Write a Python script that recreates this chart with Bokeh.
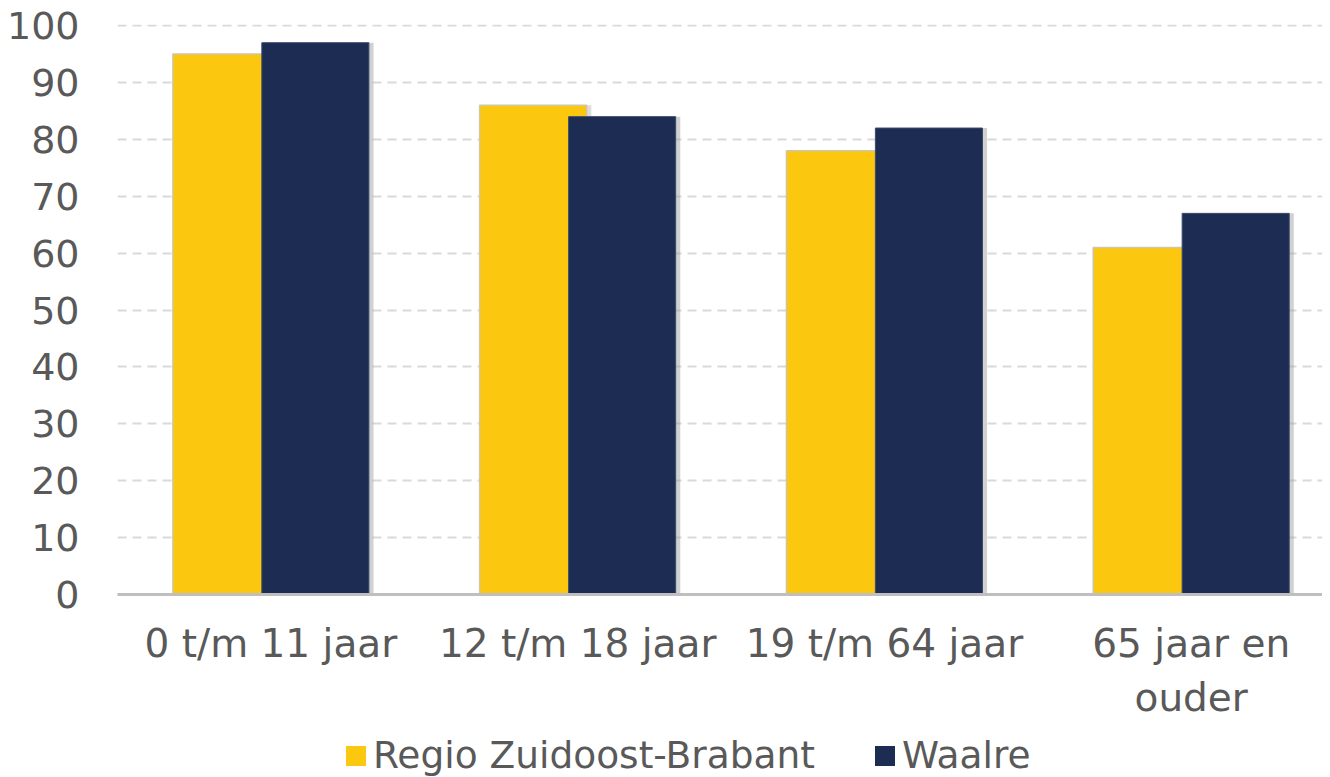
import numpy as np
from bokeh.plotting import figure
from bokeh.layouts import column
from bokeh.models import ColumnDataSource, FixedTicker, Legend, LegendItem, Range1d
from bokeh.transform import dodge
from bokeh.embed import file_html
from bokeh.resources import INLINE

categories = ["0 t/m 11 jaar", "12 t/m 18 jaar", "19 t/m 64 jaar", "65 jaar en\nouder"]
series_names = ["Regio Zuidoost-Brabant", "Waalre"]
regio = [95, 86, 78, 61]
waalre = [97, 84, 82, 67]
y_ticks = [0, 10, 20, 30, 40, 50, 60, 70, 80, 90, 100]

YELLOW = "#FCC70F"
NAVY = "#1C2C53"
TEXT = "#595959"
FONT = "DejaVu Sans"

src = ColumnDataSource(dict(x=list(np.arange(len(categories))), regio=regio, waalre=waalre))

p = figure(width=1322, height=724, x_range=(-0.5, 3.428), y_range=(0, 100.2),
           output_backend="svg", toolbar_location=None,
           min_border_left=117, min_border_right=0, min_border_top=24, min_border_bottom=130)
p.outline_line_color = None
p.background_fill_color = "white"

bw = 0.349
off = 0.145
sh = 0.015
# shadows
p.vbar(x=dodge("x", -off + sh, range=p.x_range), top="regio", width=bw, source=src,
       fill_color="#9a9a9a", fill_alpha=0.35, line_color=None)
p.vbar(x=dodge("x", off + sh, range=p.x_range), top="waalre", width=bw, source=src,
       fill_color="#9a9a9a", fill_alpha=0.45, line_color=None)
r1 = p.vbar(x=dodge("x", -off, range=p.x_range), top="regio", width=bw, source=src,
            fill_color=YELLOW, line_color="#cfc7a8", line_width=1.5)
r2 = p.vbar(x=dodge("x", off, range=p.x_range), top="waalre", width=bw, source=src,
            fill_color=NAVY, line_color="#3b4a6b", line_width=1)

p.xgrid.grid_line_color = None
p.ygrid.grid_line_color = "#d9d9d9"
p.ygrid.grid_line_width = 2
p.ygrid.grid_line_dash = "9 6"
p.ygrid.ticker = FixedTicker(ticks=y_ticks)

p.yaxis.ticker = FixedTicker(ticks=y_ticks)
p.yaxis.axis_line_color = None
p.yaxis.major_tick_line_color = None
p.yaxis.minor_tick_line_color = None
p.yaxis.major_label_standoff = 32
p.yaxis.major_label_text_font = FONT
p.yaxis.major_label_text_font_size = "38px"
p.yaxis.major_label_text_color = TEXT

p.xaxis.ticker = FixedTicker(ticks=list(range(len(categories))))
p.xaxis.major_label_overrides = {i: c for i, c in enumerate(categories)}
p.xaxis.axis_line_color = "#bfbfbf"
p.xaxis.axis_line_width = 3
p.xaxis.major_tick_line_color = None
p.xaxis.minor_tick_line_color = None
p.xaxis.major_label_standoff = 20
p.xaxis.major_label_text_font = FONT
p.xaxis.major_label_text_font_size = "39px"
p.xaxis.major_label_text_color = TEXT

# legend strip below the chart (bars of this strip fall outside its range)
p2 = figure(width=1322, height=53, x_range=p.x_range, y_range=Range1d(1000, 1001),
            output_backend="svg", toolbar_location=None,
            min_border_left=0, min_border_right=0, min_border_top=0, min_border_bottom=0)
p2.axis.visible = False
p2.grid.grid_line_color = None
p2.outline_line_color = None
l1 = p2.vbar(x="x", top="regio", width=bw, source=src, fill_color=YELLOW, line_color=None)
l2 = p2.vbar(x="x", top="waalre", width=bw, source=src, fill_color=NAVY, line_color=None)

legend = Legend(items=[LegendItem(label=series_names[0], renderers=[l1]),
                       LegendItem(label=series_names[1], renderers=[l2])],
                orientation="horizontal", location=(226, 0),
                glyph_width=25, glyph_height=25, label_standoff=5, spacing=57,
                padding=0, margin=0, border_line_color=None, background_fill_alpha=0,
                label_text_font=FONT, label_text_font_size="37.5px", label_text_color=TEXT)
p2.add_layout(legend, "center")

layout = column(p, p2, spacing=0)
open("out.html", "w").write(file_html(layout, INLINE))
